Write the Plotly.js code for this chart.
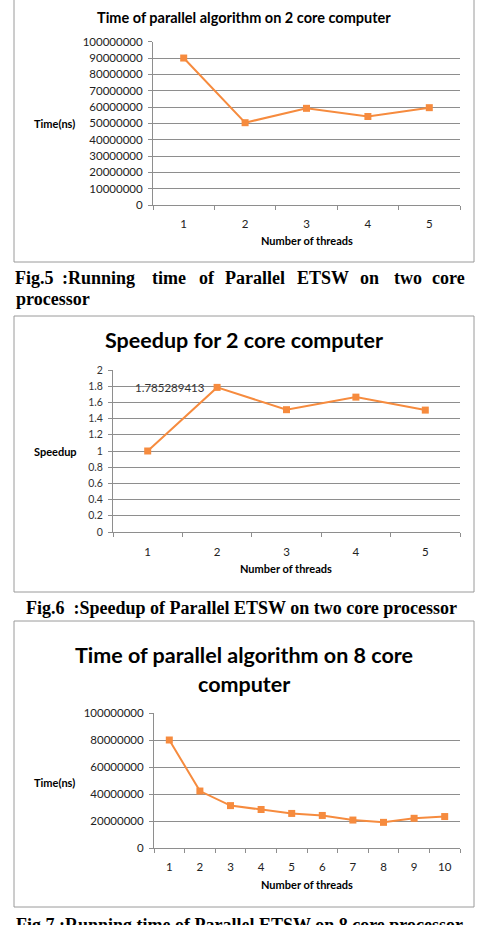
<!DOCTYPE html>
<html>
<head>
<meta charset="utf-8">
<script src="https://cdn.plot.ly/plotly-3.0.1.min.js"></script>
<style>
  html, body { margin: 0; padding: 0; background: #ffffff; }
  #fig { width: 479px; height: 925px; }
</style>
</head>
<body>
<div id="fig"></div>
<script>
// Thread counts
const threads2 = ['1', '2', '3', '4', '5'];
const threads8 = ['1', '2', '3', '4', '5', '6', '7', '8', '9', '10'];

// Running time (ns) on the 2 core machine
const time2core = [90000000, 50400000, 59200000, 54200000, 59600000];

// Speedup on the 2 core machine
const speedup2core = [1.0, 1.785289413, 1.51, 1.665, 1.505];

// Running time (ns) on the 8 core machine
const time8core = [80000000, 42200000, 31400000, 28500000, 25600000, 24100000, 20700000, 19000000, 22000000, 23300000];

// Axis ticks
const timeTicks2 = [0, 10000000, 20000000, 30000000, 40000000, 50000000, 60000000, 70000000, 80000000, 90000000, 100000000];
const speedTicks = [0, 0.2, 0.4, 0.6, 0.8, 1, 1.2, 1.4, 1.6, 1.8, 2];
const timeTicks8 = [0, 20000000, 40000000, 60000000, 80000000, 100000000];

const W = 479, H = 925;
const px = x => x / W;
const py = y => 1 - y / H;

const ORANGE = '#F68B3E';
const GRID = '#8E8E8E';
const FONT = 'Lato, "Open Sans", sans-serif';
const SERIF = '"Liberation Serif", "Times New Roman", serif';

function seriesTrace(x, y, xa, ya) {
  return {
    x: x, y: y, xaxis: xa, yaxis: ya,
    type: 'scatter', mode: 'lines+markers',
    line: { color: ORANGE, width: 2 },
    marker: { color: ORANGE, symbol: 'square', size: 7 },
    hoverinfo: 'skip', cliponaxis: false
  };
}

const data = [
  seriesTrace(threads2, time2core, 'x', 'y'),
  seriesTrace(threads2, speedup2core, 'x2', 'y2'),
  seriesTrace(threads8, time8core, 'x3', 'y3')
];

function xAxis(domain, anchor, n, standoff) {
  return {
    domain: domain, anchor: anchor, type: 'category',
    range: [-0.5, n - 0.5], tickson: 'boundaries',
    ticks: 'outside', ticklen: 4, tickcolor: GRID, tickwidth: 1,
    showline: true, linecolor: GRID, linewidth: 1,
    showgrid: false, zeroline: false, fixedrange: true,
    ticklabelstandoff: standoff,
    tickfont: { family: FONT, size: 11.5, color: '#222' }
  };
}

function yAxis(domain, anchor, range, ticks, fmt, size, color) {
  return {
    domain: domain, anchor: anchor, range: range,
    tickmode: 'array', tickvals: ticks, tickformat: fmt,
    ticks: 'outside', ticklen: 4, tickcolor: GRID, tickwidth: 1,
    showline: true, linecolor: GRID, linewidth: 1,
    showgrid: true, gridcolor: GRID, gridwidth: 1,
    zeroline: false, fixedrange: true,
    ticklabelstandoff: 3,
    tickfont: { family: FONT, size: size, color: color }
  };
}

function text(t, x, y, size, opts) {
  return Object.assign({
    text: t, x: px(x), y: py(y), xref: 'paper', yref: 'paper',
    showarrow: false, xanchor: 'center', yanchor: 'middle',
    font: { family: FONT, size: size, color: '#000' }
  }, opts || {});
}

function boldText(t, x, y, size, opts) {
  return text('<b>' + t + '</b>', x, y, size, opts);
}

function serif(t, x, y, opts) {
  return Object.assign({
    text: '<b>' + t + '</b>', x: px(x), y: py(y), xref: 'paper', yref: 'paper',
    showarrow: false, xanchor: 'left', yanchor: 'middle',
    font: { family: SERIF, size: 18, color: '#000' }
  }, opts || {});
}

// Justified first line of the Fig.5 caption
const fig5Words = ['Fig.5', ':Running', 'time', 'of', 'Parallel', 'ETSW', 'on', 'two', 'core'];
const fig5Starts = [13, 60, 150, 197, 223, 295, 358, 392, 430];

// index of the labelled speedup point
const peak = 1;

const annotations = [
  // chart 1
  boldText('Time of parallel algorithm on 2 core computer', 243.5, 17, 14.5),
  boldText('Time(ns)', 54, 124, 11),
  boldText('Number of threads', 307, 240, 11),
  // chart 2
  boldText('Speedup for 2 core computer', 243.5, 340, 21.5),
  boldText('Speedup', 55, 451, 11),
  boldText('Number of threads', 286, 568, 11),
  {
    text: String(speedup2core[peak]), x: peak, y: speedup2core[peak],
    xref: 'x2', yref: 'y2', showarrow: false,
    xanchor: 'right', yanchor: 'middle', xshift: -10,
    font: { family: FONT, size: 11.5, color: '#333' }
  },
  // chart 3
  boldText('Time of parallel algorithm on 8 core', 243.5, 655, 21.5),
  boldText('computer', 243.5, 684, 21.5),
  boldText('Time(ns)', 54, 782, 11),
  boldText('Number of threads', 307, 884, 11),
  // captions
  serif('processor', 14, 299),
  serif('Fig.6\u00a0\u00a0:Speedup of Parallel ETSW on two core processor', 24, 608),
  serif('Fig.7 :Running time of Parallel ETSW on 8 core processor', 14, 925)
];
fig5Words.forEach((w, i) => annotations.push(serif(w, fig5Starts[i], 278)));

function box(x0, y0, x1, y1) {
  return {
    type: 'rect', xref: 'paper', yref: 'paper',
    x0: px(x0), x1: px(x1), y0: py(y1), y1: py(y0),
    line: { color: '#9A9A9A', width: 1 }, fillcolor: 'rgba(0,0,0,0)'
  };
}

const layout = {
  width: W, height: H,
  margin: { l: 0, r: 0, t: 0, b: 0, pad: 0 },
  paper_bgcolor: '#ffffff', plot_bgcolor: '#ffffff',
  showlegend: false,
  xaxis: xAxis([px(153), px(460)], 'y', threads2.length, 8),
  yaxis: yAxis([py(205), py(41.7)], 'x', [0, 100000000], timeTicks2, 'd', 11.5, '#222'),
  xaxis2: xAxis([px(113), px(460)], 'y2', threads2.length, 9),
  yaxis2: yAxis([py(532), py(370)], 'x2', [0, 2], speedTicks, '', 10.5, '#333'),
  xaxis3: xAxis([px(154), px(460)], 'y3', threads8.length, 8),
  yaxis3: yAxis([py(848), py(713)], 'x3', [0, 100000000], timeTicks8, 'd', 11.5, '#222'),
  annotations: annotations,
  shapes: [
    box(14, -1, 474, 262),
    box(14, 316, 474, 592),
    box(14, 621, 474, 907)
  ]
};

Plotly.newPlot('fig', data, layout, { staticPlot: true, displayModeBar: false });
</script>
</body>
</html>
